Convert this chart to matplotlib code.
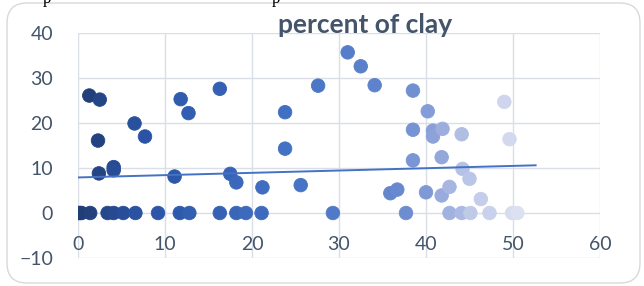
import numpy as np
import matplotlib
matplotlib.use("Agg")
import matplotlib.pyplot as plt
from matplotlib.colors import LinearSegmentedColormap
from matplotlib.patches import FancyBboxPatch

# --- datos (ordenados por x) ---
clay_x = [0, 0.2, 0.4, 1.3, 1.4, 2.3, 2.4, 2.5, 3.4, 4.1,
          4.1, 4.1, 5.2, 6.5, 6.6, 7.7, 9.2, 11.1, 11.7, 11.8,
          12.7, 12.8, 16.3, 16.3, 17.5, 18.2, 18.2, 19.3, 21.1, 21.2,
          23.8, 23.8, 25.6, 27.6, 29.3, 31.0, 32.5, 34.1, 35.9, 36.7,
          37.7, 38.5, 38.5, 38.5, 40.0, 40.2, 40.8, 40.8, 41.8, 41.8,
          41.9, 42.7, 42.7, 44.1, 44.1, 44.2, 45.0, 45.1, 46.3, 47.3,
          49.0, 49.6, 49.9, 50.5]
clay_y = [0, 0, 0, 26.1, 0, 16.1, 8.8, 25.2, 0, 0,
          10.2, 9.5, 0, 19.9, 0, 17.0, 0, 8.1, 0, 25.3,
          22.2, 0, 27.6, 0, 8.7, 0, 6.8, 0, 0, 5.7,
          22.4, 14.3, 6.2, 28.3, 0, 35.7, 32.6, 28.4, 4.4, 5.2,
          0, 27.2, 18.5, 11.7, 4.6, 22.6, 18.3, 17.0, 12.4, 3.9,
          18.7, 0, 5.8, 0, 17.5, 9.8, 7.6, 0, 3.1, 0,
          24.7, 16.4, 0, 0]
# linea de tendencia (extremos)
trend_x = [0, 52.6]
trend_y = [7.9, 10.6]
x_ticks = [0, 10, 20, 30, 40, 50, 60]
y_ticks = [-10, 0, 10, 20, 30, 40]
title = "percent of clay"

TEXT = "#44546A"
GRID = "#DADFE7"

fig = plt.figure(figsize=(6.44, 2.86), dpi=100)
ax = fig.add_axes([78 / 644, 28 / 286, 522 / 644, 225 / 286])

# borde redondeado del grafico
box = FancyBboxPatch((0.07, 0.03), 6.33, 2.80,
                     boxstyle="round,pad=0,rounding_size=0.2",
                     transform=fig.dpi_scale_trans, facecolor="white",
                     edgecolor="#D9D9D9", linewidth=1.0, zorder=-10)
fig.patches.append(box)

# colores que varian por punto (oscuro -> claro)
cmap = LinearSegmentedColormap.from_list(
    "clay", ["#1F3A6E", "#2B55A8", "#4472C4", "#8FA3DA", "#DCE1F2"])
n = len(clay_x)
colors = [cmap(i / (n - 1)) for i in range(n)]
ax.scatter(clay_x, clay_y, s=95, c=colors, edgecolors=colors,
           linewidths=0.6, zorder=3)

ax.plot(trend_x, trend_y, color="#4472C4", lw=1.4, zorder=4)

ax.set_xlim(0, 60)
ax.set_ylim(-10, 40)
ax.set_xticks(x_ticks)
ax.set_yticks(y_ticks)
ax.grid(True, color=GRID, lw=1.0, zorder=0)
ax.set_axisbelow(True)
for s in ax.spines.values():
    s.set_visible(False)
ax.spines["bottom"].set_position(("data", 0))
ax.tick_params(axis="x", length=0, pad=16.5, labelsize=14, labelcolor=TEXT)
ax.tick_params(axis="y", length=0, pad=18, labelsize=14, labelcolor=TEXT)
for lab in ax.get_xticklabels() + ax.get_yticklabels():
    lab.set_fontfamily("Lato")

fig.text(365 / 644, 1 - 33 / 286, title, ha="center", va="baseline",
         fontsize=19, fontweight="bold", color=TEXT, family="Lato")

# restos del texto de arriba (cortado en el original)
fig.text(43 / 644, 1 - 3 / 286, "p", family="Liberation Serif", fontsize=12)
fig.text(272 / 644, 1 - 3 / 286, "p", family="Liberation Serif", fontsize=12)

fig.savefig("out.png", dpi=100)
